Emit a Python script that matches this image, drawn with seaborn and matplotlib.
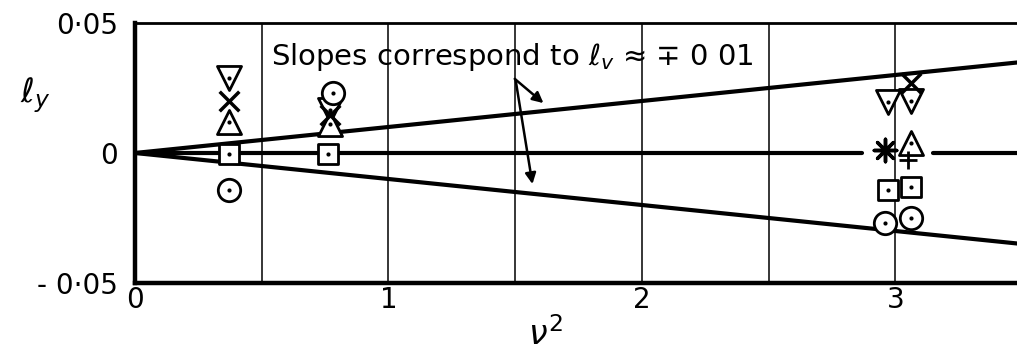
import numpy as np
import pandas as pd
import matplotlib
matplotlib.use("Agg")
import matplotlib.pyplot as plt
import seaborn as sns

# Measured rolling-moment derivative l_y against nu^2, grouped by symbol
nu2_tri_down = [0.37, 0.77, 2.97, 3.06]
ly_tri_down = [0.029, 0.0165, 0.0196, 0.0200]
nu2_cross = [0.37, 0.77, 3.06]
ly_cross = [0.020, 0.0146, 0.027]
nu2_tri_up = [0.37, 0.77, 3.06]
ly_tri_up = [0.012, 0.011, 0.004]
nu2_square = [0.37, 0.76, 2.97, 3.06]
ly_square = [-0.0004, -0.0004, -0.0142, -0.013]
nu2_circle = [0.37, 0.78, 2.96, 3.06]
ly_circle = [-0.0142, 0.023, -0.027, -0.025]
nu2_star = [2.96]
ly_star = [0.001]
nu2_plus = [3.05]
ly_plus = [-0.0027]

# Reference lines: slopes of l_v = -/+ 0.01 and the zero line
slope_values = [0.01, -0.01]
line_nu2 = [0.0, 3.5]
zero_segments = [([0.0, 2.87], [0.0, 0.0]), ([3.15, 3.5], [0.0, 0.0])]

x_ticks = [0, 1, 2, 3]
x_tick_labels = ["0", "1", "2", "3"]
y_ticks = [-0.05, 0, 0.05]
y_tick_labels = ["- 0·05", "0", "0·05"]

sns.set_theme(style="white")
plt.rcParams["font.family"] = ["DejaVu Sans"]
plt.rcParams["text.color"] = "black"
plt.rcParams["xtick.color"] = "black"
plt.rcParams["ytick.color"] = "black"
plt.rcParams["axes.labelcolor"] = "black"

fig = plt.figure(figsize=(10.17, 3.58), dpi=100)
ax = fig.add_axes([0.1327, 0.2095, 0.8673, 0.7263])

# vertical grid every 0.5
for gx in np.arange(0.5, 3.5, 0.5):
    ax.axvline(gx, color="black", lw=1.1, zorder=1)

# sloped reference lines
for s in slope_values:
    lines_df = pd.DataFrame({"nu2": line_nu2, "ly": [s * v for v in line_nu2]})
    sns.lineplot(data=lines_df, x="nu2", y="ly", color="black", lw=3.0, ax=ax, zorder=2)
for xs, ys in zero_segments:
    sns.lineplot(x=xs, y=ys, color="black", lw=3.0, ax=ax, zorder=2)

groups = [
    (nu2_tri_down, ly_tri_down, "v", 300),
    (nu2_tri_up, ly_tri_up, "^", 300),
    (nu2_square, ly_square, "s", 190),
    (nu2_circle, ly_circle, "o", 260),
]
for xs, ys, m, size in groups:
    df = pd.DataFrame({"nu2": xs, "ly": ys})
    sns.scatterplot(data=df, x="nu2", y="ly", marker=m, s=size, facecolor="white",
                    edgecolor="black", linewidth=2.0, ax=ax, zorder=4)
    sns.scatterplot(data=df, x="nu2", y="ly", marker="o", s=9, color="black",
                    edgecolor="black", linewidth=0, ax=ax, zorder=5)

df_cross = pd.DataFrame({"nu2": nu2_cross, "ly": ly_cross})
sns.scatterplot(data=df_cross, x="nu2", y="ly", marker="x", s=200, color="black",
                linewidth=2.5, ax=ax, zorder=6)
df_star = pd.DataFrame({"nu2": nu2_star, "ly": ly_star})
sns.scatterplot(data=df_star, x="nu2", y="ly", marker=(8, 2, 0), s=260, color="black",
                linewidth=2.5, ax=ax, zorder=6)
df_plus = pd.DataFrame({"nu2": nu2_plus, "ly": ly_plus})
sns.scatterplot(data=df_plus, x="nu2", y="ly", marker="+", s=160, color="black",
                linewidth=2.0, ax=ax, zorder=6)

ax.set_xlim(0, 3.48)
ax.set_ylim(-0.05, 0.05)
ax.set_xticks(x_ticks)
ax.set_xticklabels(x_tick_labels, fontsize=20)
ax.set_yticks(y_ticks)
ax.set_yticklabels(y_tick_labels, fontsize=20)
ax.tick_params(axis="y", length=0, pad=12)
ax.tick_params(axis="x", length=0, pad=2)
ax.set_xlabel("")
ax.set_ylabel("")
fig.text(545 / 1017, 1 - 335 / 358, r"$\nu^2$", fontsize=24, ha="center", va="center")
fig.text(0.02, 1 - 95 / 358, r"$\ell_y$", fontsize=24, ha="left", va="center")

for side in ["left", "bottom"]:
    ax.spines[side].set_linewidth(3.2)
    ax.spines[side].set_color("black")
ax.spines["top"].set_linewidth(2.0)
ax.spines["top"].set_color("black")
ax.spines["right"].set_visible(False)

ax.text(0.535, 0.037, r"Slopes correspond to $\ell_v$ ≈ ∓ 0 01", fontsize=21,
        ha="left", va="center", zorder=7)
arrow_kw = dict(arrowstyle="-|>", color="black", lw=1.8, mutation_scale=16)
ax.annotate("", xy=(1.62, 0.0185), xytext=(1.49, 0.0292), arrowprops=arrow_kw)
ax.annotate("", xy=(1.57, -0.013), xytext=(1.50, 0.0292), arrowprops=arrow_kw)

fig.savefig("out.png", dpi=100)
